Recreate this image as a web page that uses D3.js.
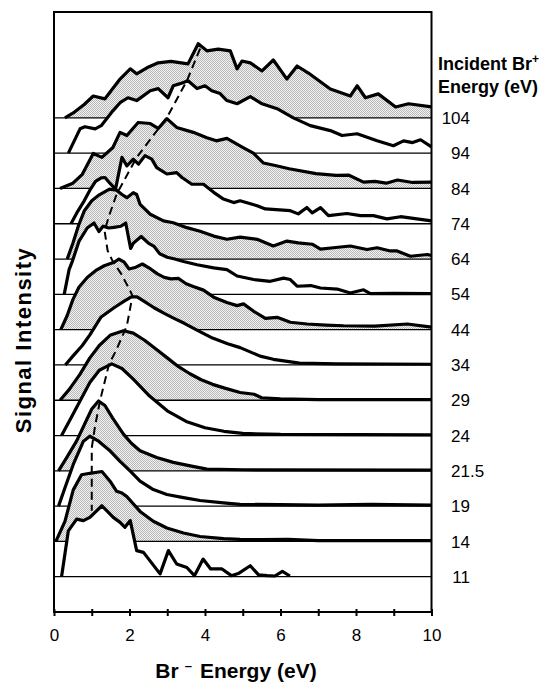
<!DOCTYPE html>
<html>
<head>
<meta charset="utf-8">
<script src="https://cdn.jsdelivr.net/npm/d3@7"></script>
<style>
  body { margin: 0; background: #fff; }
  text { font-family: "Liberation Sans", Arial, Helvetica, sans-serif; }
</style>
</head>
<body>
<svg id="chart" width="542" height="683"></svg>
<script>
// incident Br+ energies, top to bottom
var incident = ["104", "94", "84", "74", "64", "54", "44", "34", "29", "24", "21.5", "19", "14", "11"];
var shaded = [true, false, true, false, true, false, true, false, true, false, true, false, true, false];

// Br- energy (eV), signal (in units of one offset step)
var s104 = [[0.29,0],[0.51,0.14],[0.8,0.38],[1.04,0.62],[1.35,0.54],[1.75,1.10],[2.02,1.39],[2.19,1.25],[2.46,1.42],[2.76,1.56],[3.1,1.6],[3.55,1.53],[3.82,2.10],[4.05,1.90],[4.35,1.95],[4.67,1.90],[4.85,1.39],[4.98,1.61],[5.2,1.56],[5.51,1.33],[5.81,1.64],[6.17,1.10],[6.44,1.47],[6.74,1.27],[7.32,0.82],[7.85,0.62],[8.03,0.91],[8.25,0.57],[8.59,0.68],[9.05,0.31],[9.39,0.40],[10,0.31]];
var s94 = [[0.38,0],[0.69,0.69],[0.82,0.75],[1.09,0.69],[1.25,0.78],[1.56,1.2],[1.75,1.43],[1.96,1.57],[2.19,1.49],[2.55,1.77],[2.76,1.83],[3.02,1.57],[3.16,1.91],[3.34,1.97],[3.55,2.05],[3.79,1.83],[4.0,1.91],[4.18,1.77],[4.40,1.69],[4.58,1.49],[4.85,1.40],[5.2,1.6],[5.51,1.40],[5.91,1.26],[6.34,1.0],[6.79,0.78],[7.32,0.64],[7.63,0.50],[8.03,0.55],[8.56,0.35],[8.99,0.21],[9.26,0.35],[9.5,0.3],[9.71,0.38],[10,0.18]];
var s84 = [[0.16,0],[0.5,0.15],[0.75,0.4],[1.04,0.99],[1.27,0.88],[1.56,1.16],[1.75,1.59],[1.93,1.5],[2.23,1.87],[2.55,1.84],[2.76,1.70],[2.99,1.98],[3.25,1.73],[3.69,1.59],[4.05,1.44],[4.3,1.35],[4.58,1.42],[5.01,1.16],[5.28,1.0],[5.55,0.72],[5.86,0.65],[6.23,0.56],[6.94,0.42],[7.47,0.37],[7.8,0.38],[8.2,0.18],[8.5,0.2],[8.8,0.15],[9.1,0.24],[9.5,0.17],[10,0.18]];
var s74 = [[0.45,0],[0.6,0.3],[0.8,0.65],[0.95,0.95],[1.1,1.2],[1.25,1.3],[1.35,1.31],[1.48,1.15],[1.63,0.98],[1.80,1.88],[1.93,1.64],[2.10,1.83],[2.24,1.69],[2.41,1.93],[2.59,1.83],[2.72,1.59],[2.99,1.41],[3.25,1.45],[3.39,1.31],[3.65,1.12],[3.96,1.12],[4.23,0.89],[4.49,0.70],[4.76,0.60],[4.93,0.65],[5.38,0.51],[5.60,0.42],[6.26,0.37],[6.47,0.28],[6.70,0.46],[6.84,0.31],[7.06,0.46],[7.27,0.23],[7.76,0.29],[8.12,0.23],[8.46,0.23],[8.82,0.14],[9.18,0.20],[10,0.08]];
var s64 = [[0.35,0],[0.5,0.45],[0.65,0.95],[0.8,1.36],[1.0,1.65],[1.2,1.82],[1.47,1.98],[1.66,1.95],[1.80,1.83],[1.93,1.74],[2.10,1.88],[2.19,1.83],[2.28,1.55],[2.55,1.27],[2.90,1.08],[3.16,1.03],[3.52,0.89],[3.87,0.79],[4.23,0.65],[4.58,0.56],[4.93,0.62],[5.38,0.56],[5.81,0.37],[6.17,0.51],[6.47,0.46],[6.84,0.42],[7.06,0.28],[7.40,0.32],[7.85,0.37],[8.29,0.27],[8.56,0.32],[8.91,0.23],[9.09,0.23],[9.44,0.08],[9.89,0.13],[10,0.1]];
var s54 = [[0.27,0],[0.4,0.7],[0.49,0.95],[0.66,1.5],[0.88,1.88],[1.06,2.02],[1.19,1.78],[1.3,1.93],[1.45,1.88],[1.59,1.9],[1.77,1.93],[1.90,2.02],[2.03,1.3],[2.1,1.45],[2.31,1.64],[2.5,1.45],[2.65,1.36],[2.8,1.15],[3.0,1.05],[3.2,1.0],[3.43,0.93],[3.79,0.84],[4.23,0.75],[4.58,0.70],[4.85,0.52],[5.29,0.42],[5.73,0.37],[6.08,0.46],[6.26,0.42],[6.44,0.23],[6.8,0.25],[7.06,0.18],[7.5,0.15],[7.85,0.04],[8.2,0.13],[8.38,0.02],[9,0.03],[10,0.02]];
var s44 = [[0.18,0],[0.35,0.4],[0.5,0.85],[0.66,1.2],[0.88,1.48],[1.1,1.67],[1.33,1.81],[1.46,1.86],[1.59,1.91],[1.72,2.0],[1.86,1.91],[1.99,1.72],[2.17,1.77],[2.34,1.86],[2.56,1.72],[2.74,1.58],[2.92,1.48],[3.1,1.44],[3.3,1.45],[3.5,1.3],[3.69,1.22],[3.96,1.12],[4.23,0.92],[4.58,0.77],[4.85,0.68],[5.02,0.73],[5.29,0.52],[5.6,0.32],[5.91,0.35],[6.26,0.21],[6.70,0.16],[7.2,0.13],[7.67,0.11],[8.5,0.1],[9.36,0.16],[10,0.07]];
var s34 = [[0.3,0],[0.5,0.25],[0.75,0.55],[0.95,0.85],[1.24,1.35],[1.59,1.62],[1.86,1.81],[2.05,1.93],[2.2,1.93],[2.39,1.8],[2.65,1.62],[2.92,1.46],[3.18,1.32],[3.45,1.18],[3.8,0.98],[4.2,0.76],[4.6,0.6],[4.93,0.49],[5.46,0.25],[5.81,0.16],[6.5,0.05],[7.5,0.03],[10,0.02]];
var s29 = [[0.16,0],[0.4,0.3],[0.69,0.74],[0.95,1.2],[1.2,1.55],[1.5,1.85],[1.84,1.97],[2.1,1.9],[2.4,1.7],[2.7,1.45],[3.0,1.2],[3.3,0.95],[3.6,0.75],[3.9,0.58],[4.2,0.45],[4.5,0.35],[4.93,0.22],[5.3,0.17],[5.5,0.07],[6,0.04],[7,0.02],[10,0.02]];
var s24 = [[0.2,0],[0.45,0.5],[0.7,1.0],[0.95,1.5],[1.2,1.85],[1.53,2.03],[1.8,1.9],[2.1,1.6],[2.5,1.15],[3.0,0.7],[3.5,0.4],[4.0,0.22],[4.5,0.12],[5,0.06],[6,0.03],[10,0.02]];
var s215 = [[0.12,0],[0.34,0.38],[0.6,0.85],[0.8,1.3],[1.0,1.75],[1.18,1.98],[1.35,1.85],[1.55,1.5],[1.84,1.04],[2.05,0.78],[2.28,0.57],[2.72,0.38],[3.16,0.24],[3.61,0.14],[4.05,0.05],[5,0.03],[10,0.02]];
var s19 = [[0.12,0],[0.3,0.55],[0.51,1.18],[0.78,1.84],[0.95,1.98],[1.18,1.84],[1.49,1.56],[1.75,1.27],[2.02,0.99],[2.28,0.71],[2.63,0.47],[2.99,0.33],[3.43,0.24],[3.87,0.16],[4.49,0.09],[4.93,0.05],[6,0.04],[7,0.03],[8.4,0.05],[10,0.03]];
var s14 = [[0.05,0],[0.29,0.57],[0.51,1.46],[0.73,1.89],[0.95,1.93],[1.27,1.98],[1.49,1.70],[1.66,1.42],[1.80,1.37],[1.93,1.27],[2.28,0.85],[2.63,0.57],[2.99,0.38],[3.43,0.24],[3.87,0.14],[4.49,0.08],[4.93,0.06],[5.5,0.05],[6.2,0.06],[7,0.02],[10,0.02]];
var s11 = [[0.2,0],[0.38,1.3],[0.6,1.63],[0.78,1.59],[0.95,1.68],[1.27,2.01],[1.57,1.68],[1.75,1.54],[1.88,1.40],[2.02,1.59],[2.19,0.74],[2.37,0.69],[2.81,0.08],[3.03,0.74],[3.25,0.36],[3.52,0.26],[3.72,0.03],[3.95,0.5],[4.15,0.22],[4.45,0.22],[4.7,0.03],[4.9,0.1],[5.2,0.31],[5.42,0.05],[5.65,0.03],[5.85,0.02],[6.05,0.15],[6.25,0.02]];

var spectra = [s104, s94, s84, s74, s64, s54, s44, s34, s29, s24, s215, s19, s14, s11];

// dashed guide through the peaks: energy (eV) and stack level
var peakEnergy = [3.87, 3.52, 2.99, 2.19, 1.66, 1.46, 1.34, 1.42, 1.55, 1.78, 1.99, 2.08, 2.03, 1.93, 1.64, 1.46, 1.22, 1.09, 1.0, 1.0];
var peakLevel  = [14.96, 14.05, 13.01, 11.88, 10.84, 10.23, 9.80, 9.24, 8.95, 8.58, 8.16, 7.96, 7.68, 7.11, 6.40, 6.03, 4.99, 4.28, 3.65, 1.87];

var xTicks = d3.range(0, 11);

var svg = d3.select("#chart");

var x = d3.scaleLinear().domain([0, 10]).range([54, 431.5]);
var y = d3.scaleLinear().domain([-1, 16]).range([612, 12]);

// stipple fill
var pat = svg.append("defs").append("pattern")
    .attr("id", "stip")
    .attr("width", 2).attr("height", 2)
    .attr("patternUnits", "userSpaceOnUse");
pat.append("rect").attr("width", 2).attr("height", 2).attr("fill", "#f2f2f2");
pat.append("rect").attr("width", 1).attr("height", 1).attr("fill", "#b8b8b8");
pat.append("rect").attr("x", 1).attr("y", 1).attr("width", 1).attr("height", 1).attr("fill", "#b8b8b8");

var n = spectra.length;

// top spectrum first, lower ones cover it
spectra.forEach(function(data, i) {
    var level = n - 1 - i;
    var g = svg.append("g").attr("class", "spectrum");

    var area = d3.area()
        .x(function(d) { return x(d[0]); })
        .y0(y(level))
        .y1(function(d) { return y(level + d[1]); });

    var line = d3.line()
        .x(function(d) { return x(d[0]); })
        .y(function(d) { return y(level + d[1]); })
        .curve(d3.curveLinear);

    g.append("path")
        .datum(data)
        .attr("d", area)
        .attr("fill", shaded[i] ? "url(#stip)" : "#fff")
        .attr("stroke", "none");

    g.append("line")
        .attr("x1", x(0)).attr("x2", x(10))
        .attr("y1", y(level)).attr("y2", y(level))
        .attr("stroke", "#000")
        .attr("stroke-width", 1.3);

    g.append("path")
        .datum(data)
        .attr("d", line)
        .attr("fill", "none")
        .attr("stroke", "#000")
        .attr("stroke-width", 3.2)
        .attr("stroke-linejoin", "round");

    // label, decimal-aligned
    var parts = incident[i].split(".");
    svg.append("text")
        .attr("x", 470).attr("y", y(level))
        .attr("dy", "0.36em")
        .attr("text-anchor", "end")
        .attr("font-size", 17)
        .text(parts[0]);
    if (parts.length > 1) {
        svg.append("text")
            .attr("x", 470).attr("y", y(level))
            .attr("dy", "0.36em")
            .attr("font-size", 17)
            .text("." + parts[1]);
    }
});

// peak trend
var trend = d3.line()
    .x(function(d) { return x(d[0]); })
    .y(function(d) { return y(d[1]); });
svg.append("path")
    .datum(d3.zip(peakEnergy, peakLevel))
    .attr("d", trend)
    .attr("fill", "none")
    .attr("stroke", "#000")
    .attr("stroke-width", 2)
    .attr("stroke-dasharray", "8,5");

// frame
svg.append("rect")
    .attr("x", x(0)).attr("y", y(16))
    .attr("width", x(10) - x(0)).attr("height", y(-1) - y(16))
    .attr("fill", "none")
    .attr("stroke", "#000")
    .attr("stroke-width", 2);

// x axis
var xAxis = d3.axisBottom(x)
    .tickValues(xTicks)
    .tickSizeInner(4)
    .tickSizeOuter(0)
    .tickPadding(13)
    .tickFormat(function(d) { return d % 2 === 0 ? d : ""; });

var gX = svg.append("g")
    .attr("transform", "translate(0," + y(-1) + ")")
    .call(xAxis);
gX.select(".domain").remove();
gX.selectAll(".tick line")
    .attr("y1", -3)
    .attr("stroke", "#000")
    .attr("stroke-width", 2);
gX.selectAll(".tick text")
    .attr("font-size", 17)
    .attr("font-family", "Liberation Sans, Arial, sans-serif")
    .attr("fill", "#000");

// axis titles
var xt = svg.append("text")
    .attr("x", 236).attr("y", 678)
    .attr("text-anchor", "middle")
    .attr("font-size", 21)
    .attr("font-weight", "bold");
xt.append("tspan").text("Br");
xt.append("tspan").attr("dx", 6).attr("dy", -8).attr("font-size", 13).text("\u2013");
xt.append("tspan").attr("dx", 8).attr("dy", 8).text("Energy (eV)");

svg.append("text")
    .attr("transform", "translate(31,340) rotate(-90)")
    .attr("text-anchor", "middle")
    .attr("font-size", 22)
    .attr("font-weight", "bold")
    .attr("letter-spacing", 1.5)
    .text("Signal Intensity");

var h1 = svg.append("text")
    .attr("x", 438).attr("y", 70)
    .attr("font-size", 18)
    .attr("font-weight", "bold");
h1.append("tspan").text("Incident Br");
h1.append("tspan").attr("dy", -7).attr("font-size", 12).text("+");

svg.append("text")
    .attr("x", 438).attr("y", 93)
    .attr("font-size", 18)
    .attr("font-weight", "bold")
    .text("Energy (eV)");
</script>
</body>
</html>
